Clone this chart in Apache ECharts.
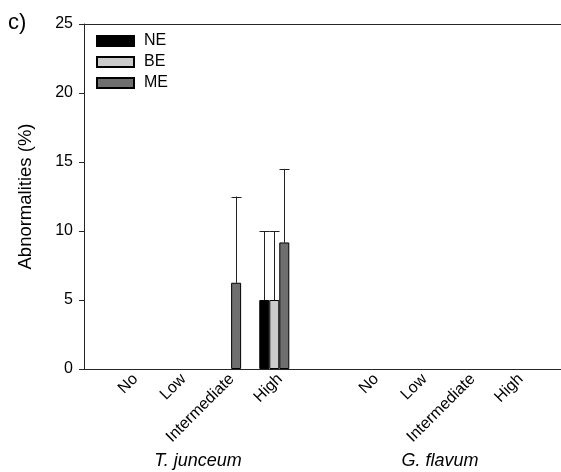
<!DOCTYPE html>
<html>
<head>
<meta charset="utf-8">
<script src="https://cdn.jsdelivr.net/npm/echarts@6/dist/echarts.min.js"></script>
<style>
  html, body { margin: 0; padding: 0; background: #fff; }
  #chart { width: 561px; height: 472px; }
</style>
</head>
<body>
<div id="chart"></div>
<script>
// Exposure levels for each species; the empty slot separates the two species groups
const categories = ['No', 'Low', 'Intermediate', 'High', '', 'No', 'Low', 'Intermediate', 'High'];
const speciesNames = ['T. junceum', 'G. flavum'];

// Mean abnormalities (%) per embryo type
const neValues = [0, 0, 0, 5, null, 0, 0, 0, 0];
const beValues = [0, 0, 0, 5, null, 0, 0, 0, 0];
const meValues = [0, 0, 6.25, 9.17, null, 0, 0, 0, 0];

// Upper error (standard deviation) for each bar
const neErrors = [0, 0, 0, 5, null, 0, 0, 0, 0];
const beErrors = [0, 0, 0, 5, null, 0, 0, 0, 0];
const meErrors = [0, 0, 6.25, 5.33, null, 0, 0, 0, 0];

const yTicks = [0, 5, 10, 15, 20, 25];

const FONT = '"Liberation Sans", Arial, sans-serif';
const AXIS_COLOR = '#262626';
const BAR_W = 10;

const seriesDefs = [
  { name: 'NE', values: neValues, errors: neErrors, color: '#000000', offset: -BAR_W },
  { name: 'BE', values: beValues, errors: beErrors, color: '#cccccc', offset: 0 },
  { name: 'ME', values: meValues, errors: meErrors, color: '#6f6f6f', offset: BAR_W }
];

const chart = echarts.init(document.getElementById('chart'));

const barSeries = seriesDefs.map(s => ({
  name: s.name,
  type: 'bar',
  xAxisIndex: 1,
  yAxisIndex: 1,
  barWidth: BAR_W,
  barGap: '0%',
  // a zero-height bar gets no outline so nothing shows on the baseline
  data: s.values.map(v => {
    if (v === null) return '-';
    return v === 0 ? { value: 0, itemStyle: { borderWidth: 0 } } : v;
  }),
  itemStyle: { color: s.color, borderColor: '#000', borderWidth: 1 },
  emphasis: { disabled: true },
  z: 3
}));

// Upward error whiskers with a cap, offset to sit on their own bar
const errorSeries = seriesDefs.map(s => ({
  name: s.name + ' err',
  type: 'custom',
  xAxisIndex: 1,
  yAxisIndex: 1,
  z: 2,
  silent: true,
  data: s.values
    .map((v, i) => [i, v, s.errors[i]])
    .filter(d => d[1] !== null && d[2] > 0)
    .map(d => [d[0], d[1], d[1] + d[2]]),
  renderItem: (params, api) => {
    const base = api.coord([api.value(0), api.value(1)]);
    const top = api.coord([api.value(0), api.value(2)]);
    const x = Math.round(base[0] + s.offset) + 0.5;
    const capHalf = 5;
    const style = { stroke: '#222', lineWidth: 1, fill: null };
    return {
      type: 'group',
      children: [
        { type: 'line', shape: { x1: x, y1: base[1], x2: x, y2: top[1] }, style },
        { type: 'line', shape: { x1: x - capHalf, y1: Math.round(top[1]) + 0.5, x2: x + capHalf, y2: Math.round(top[1]) + 0.5 }, style }
      ]
    };
  }
}));

const option = {
  animation: false,
  backgroundColor: '#fff',
  textStyle: { fontFamily: FONT },
  grid: [
    { left: 84, top: 24, right: 0, bottom: 103 },
    { left: 105.7, top: 24, width: 433.5, bottom: 103 }
  ],
  legend: {
    data: ['NE', 'BE', 'ME'],
    orient: 'vertical',
    icon: 'rect',
    left: 96,
    top: 33,
    padding: 0,
    itemWidth: 37,
    itemHeight: 10,
    itemGap: 5,
    selectedMode: false,
    textStyle: { fontFamily: FONT, fontSize: 16, color: '#000', padding: [0, 0, 0, 5] }
  },
  xAxis: [
    {
      type: 'value', gridIndex: 0, min: 0, max: 1, position: 'bottom',
      axisLine: { show: true, lineStyle: { color: AXIS_COLOR, width: 1 } },
      axisTick: { show: false }, axisLabel: { show: false }, splitLine: { show: false }
    },
    {
      type: 'category', gridIndex: 1, data: categories,
      axisLine: { show: false }, axisTick: { show: false }, splitLine: { show: false },
      axisLabel: {
        interval: 0, rotate: 45, margin: 2, verticalAlign: 'top',
        fontFamily: FONT, fontSize: 16, color: '#000'
      }
    },
    {
      type: 'value', gridIndex: 0, min: 0, max: 1, position: 'top',
      axisLine: { show: true, lineStyle: { color: AXIS_COLOR, width: 1 } },
      axisTick: { show: false }, axisLabel: { show: false }, splitLine: { show: false }
    }
  ],
  yAxis: [
    {
      type: 'value', gridIndex: 0, min: yTicks[0], max: yTicks[yTicks.length - 1], interval: 5,
      name: 'Abnormalities (%)', nameLocation: 'middle', nameGap: 49,
      nameTextStyle: { fontFamily: FONT, fontSize: 18.5, color: '#000' },
      axisLine: { show: true, lineStyle: { color: AXIS_COLOR, width: 1 } },
      axisTick: { show: true, inside: false, length: 5, lineStyle: { color: AXIS_COLOR } },
      axisLabel: { margin: 11, fontFamily: FONT, fontSize: 16, color: '#000' },
      splitLine: { show: false }
    },
    {
      type: 'value', gridIndex: 1, min: yTicks[0], max: yTicks[yTicks.length - 1], interval: 5,
      show: false
    }
  ],
  graphic: [
    { type: 'text', left: 8, top: 12, style: { text: 'c)', font: '22px ' + FONT, fill: '#000' } },
    {
      type: 'text', x: 198, y: 461,
      style: { text: speciesNames[0], font: 'italic 18px ' + FONT, fill: '#000', align: 'center', verticalAlign: 'middle' }
    },
    {
      type: 'text', x: 440, y: 461,
      style: { text: speciesNames[1], font: 'italic 18px ' + FONT, fill: '#000', align: 'center', verticalAlign: 'middle' }
    }
  ],
  series: [...errorSeries, ...barSeries]
};

chart.setOption(option);
</script>
</body>
</html>
